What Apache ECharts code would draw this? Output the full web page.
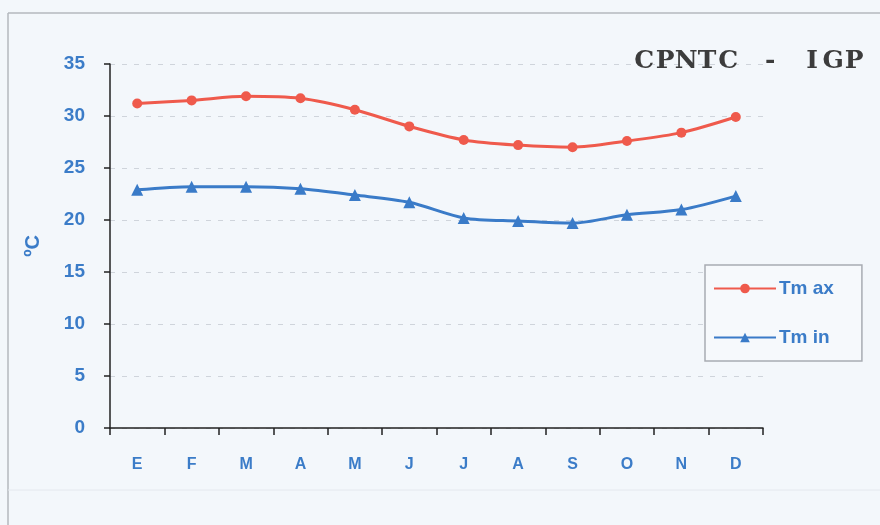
<!DOCTYPE html>
<html>
<head>
<meta charset="utf-8">
<script src="https://cdn.jsdelivr.net/npm/echarts@6/dist/echarts.min.js"></script>
<style>
html,body{margin:0;padding:0;background:#f3f7fb;}
#c{width:880px;height:525px;}
</style>
</head>
<body>
<div id="c"></div>
<script>
var months = ['E','F','M','A','M','J','J','A','S','O','N','D'];
var tmax = [31.2, 31.5, 31.9, 31.7, 30.6, 29.0, 27.7, 27.2, 27.0, 27.6, 28.4, 29.9];
var tmin = [22.9, 23.2, 23.2, 23.0, 22.4, 21.7, 20.2, 19.9, 19.7, 20.5, 21.0, 22.3];
var yTicks = [0, 5, 10, 15, 20, 25, 30, 35];
var titleText = 'CPNTC - IGP';

var blueText = '#3b7cc8';
var titleRich = titleText.split('').map(function (ch) {
  return '{a|' + (ch === ' ' ? '\u00a0' : ch) + '}';
}).join('');

var chart = echarts.init(document.getElementById('c'));
chart.setOption({
  backgroundColor: '#f3f7fb',
  animation: false,
  graphic: [
    {type: 'line', shape: {x1: 8, y1: 13, x2: 880, y2: 13}, style: {stroke: '#b4b8be', lineWidth: 1.5}, silent: true},
    {type: 'line', shape: {x1: 8, y1: 13, x2: 8, y2: 525}, style: {stroke: '#b4b8be', lineWidth: 1.5}, silent: true},
    {type: 'line', shape: {x1: 8, y1: 490, x2: 880, y2: 490}, style: {stroke: '#e4e8ee', lineWidth: 1}, silent: true}
  ],
  title: {
    text: titleRich,
    right: 12,
    top: 44,
    textStyle: {
      rich: {
        a: {fontFamily: 'DejaVu Serif', fontWeight: 'bold', fontSize: 25, color: '#3c3c3c', width: 21, align: 'center'}
      }
    }
  },
  legend: {
    orient: 'vertical',
    left: 705,
    top: 265,
    padding: [14, 28, 14, 8],
    itemGap: 30,
    itemWidth: 62,
    itemHeight: 12,
    borderColor: '#a8acb2',
    borderWidth: 1.5,
    backgroundColor: '#f6f9fc',
    textStyle: {color: blueText, fontFamily: 'Liberation Sans', fontWeight: 'bold', fontSize: 19, padding: [0, 0, 0, -2]},
    data: ['Tm ax', 'Tm in']
  },
  grid: {left: 110, right: 117, top: 64, bottom: 97},
  xAxis: {
    type: 'category',
    data: months,
    boundaryGap: true,
    axisLine: {lineStyle: {color: '#222', width: 1.5}},
    axisTick: {show: true, alignWithLabel: false, length: 7, lineStyle: {color: '#222', width: 1.5}},
    axisLabel: {color: blueText, fontFamily: 'Liberation Sans', fontWeight: 'bold', fontSize: 16, margin: 29},
    splitLine: {show: false}
  },
  yAxis: {
    type: 'value',
    min: 0,
    max: 35,
    interval: 5,
    name: 'ºC',
    nameLocation: 'middle',
    nameGap: 67,
    nameRotate: 90,
    nameTextStyle: {color: blueText, fontFamily: 'Liberation Sans', fontWeight: 'bold', fontSize: 20},
    axisLine: {show: true, lineStyle: {color: '#222', width: 1.5}},
    axisTick: {show: true, length: 6, lineStyle: {color: '#222', width: 1.5}},
    axisLabel: {
      color: blueText, fontFamily: 'Liberation Sans', fontWeight: 'bold', fontSize: 19, margin: 25,
      formatter: function (v) { return yTicks.indexOf(v) >= 0 ? String(v) : ''; }
    },
    splitLine: {show: true, lineStyle: {color: '#cfd4db', type: [5, 7], width: 1}}
  },
  series: [{
    name: 'Tm ax',
    type: 'line',
    data: tmax,
    smooth: 0.3,
    symbol: 'circle',
    symbolSize: 10,
    itemStyle: {color: '#ef5a4c'},
    lineStyle: {color: '#ef5a4c', width: 3}
  }, {
    name: 'Tm in',
    type: 'line',
    data: tmin,
    smooth: 0.3,
    symbol: 'triangle',
    symbolSize: 12,
    itemStyle: {color: '#3a7bc8'},
    lineStyle: {color: '#3a7bc8', width: 3}
  }]
});
</script>
</body>
</html>
